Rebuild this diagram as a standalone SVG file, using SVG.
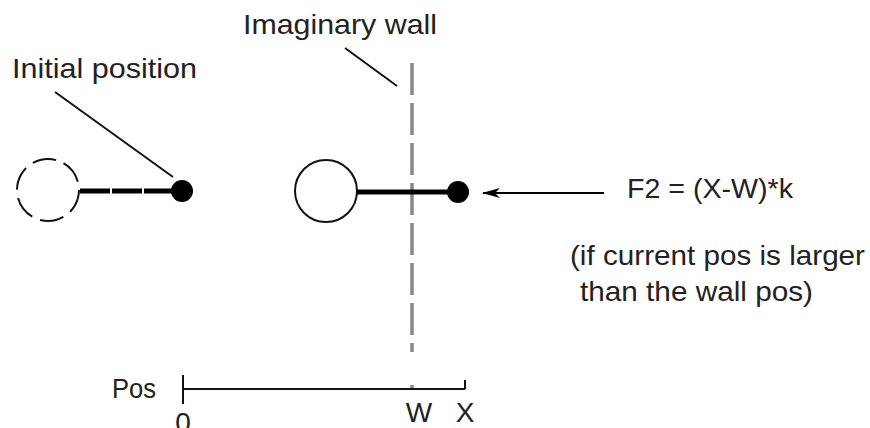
<svg xmlns="http://www.w3.org/2000/svg" width="870" height="428" viewBox="0 0 870 428">
<defs>
<style>
text{font-family:"Liberation Sans",Arial,sans-serif;font-size:28px;fill:#222}
.thin{stroke:#111;stroke-width:2;fill:none}
.rod{stroke:#000;stroke-width:5;fill:none}
.wall{stroke:#888;stroke-width:3.5;fill:none}
</style>
<marker id="ah" viewBox="0 0 18 10" refX="17" refY="5" markerWidth="18" markerHeight="10" markerUnits="userSpaceOnUse" orient="auto"><path d="M0,0 L18,5 L0,10 L5,5 Z" fill="#000"/></marker>
</defs>
<rect width="870" height="428" fill="#fff"/>
<g id="connectors">
<line class="thin" x1="55" y1="92" x2="173" y2="177"/>
<line class="thin" x1="345" y1="48" x2="397" y2="86"/>
<line x1="604" y1="193" x2="483" y2="193" stroke="#000" stroke-width="2" marker-end="url(#ah)"/>
</g>
<g id="wall">
<line class="wall" x1="412" y1="63" x2="412" y2="352" stroke-dasharray="32 8"/>
<line class="wall" x1="412" y1="385" x2="412" y2="390"/>
</g>
<g id="initial">
<circle cx="48" cy="190" r="31" fill="#fff" stroke="#111" stroke-width="2" stroke-dasharray="24 8.5" transform="rotate(-60 48 190)"/>
<line class="rod" x1="80" y1="191" x2="178" y2="191" stroke-dasharray="30 2"/>
<circle cx="182" cy="191" r="11" fill="#000"/>
</g>
<g id="current">
<circle cx="326" cy="191" r="31" fill="#fff" stroke="#111" stroke-width="2"/>
<line class="rod" x1="357" y1="192" x2="455" y2="192"/>
<circle cx="458" cy="192" r="11" fill="#000"/>
</g>
<g id="axis">
<line x1="183" y1="389" x2="465" y2="389" stroke="#111" stroke-width="2"/>
<line x1="183" y1="375" x2="183" y2="404" stroke="#111" stroke-width="2"/>
<line x1="465" y1="380" x2="465" y2="389" stroke="#111" stroke-width="2"/>
<text x="112" y="398" font-size="30" textLength="44" lengthAdjust="spacingAndGlyphs">Pos</text>
<text x="183" y="432" text-anchor="middle">0</text>
<text x="419" y="422" text-anchor="middle">W</text>
<text x="465" y="422" text-anchor="middle">X</text>
</g>
<g id="labels">
<text x="12" y="78" textLength="185" lengthAdjust="spacingAndGlyphs">Initial position</text>
<text x="243" y="34" textLength="194" lengthAdjust="spacingAndGlyphs">Imaginary wall</text>
<text x="627" y="198" textLength="166" lengthAdjust="spacingAndGlyphs">F2 = (X-W)*k</text>
<text x="570" y="265" textLength="295" lengthAdjust="spacingAndGlyphs">(if current pos is larger</text>
<text x="580" y="301" textLength="233" lengthAdjust="spacingAndGlyphs">than the wall pos)</text>
</g>
</svg>
